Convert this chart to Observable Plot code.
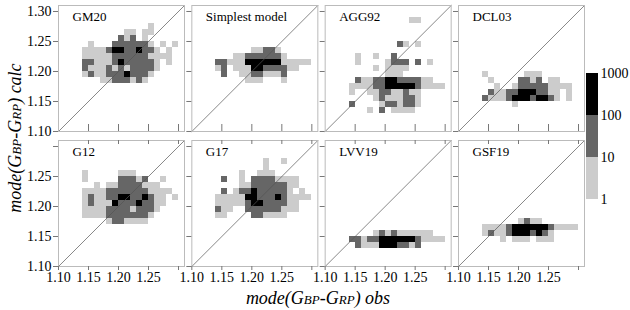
<!DOCTYPE html>
<html>
<head>
<meta charset="utf-8">
<script src="https://cdn.jsdelivr.net/npm/d3@7"></script>
<script src="https://cdn.jsdelivr.net/npm/@observablehq/plot@0.6"></script>
<style>
  html, body { margin: 0; padding: 0; background: #fff; }
  #wrap { position: relative; width: 630px; height: 310px; }
  #legend { position: absolute; left: 586px; top: 65px; }
</style>
</head>
<body>
<div id="wrap"></div>
<script>
// ---------- data ----------
const panelNames = ["GM20", "Simplest model", "AGG92", "DCL03", "G12", "G17", "LVV19", "GSF19"];
const panelCol = [0, 1, 2, 3, 0, 1, 2, 3];
const panelRow = [0, 0, 0, 0, 1, 1, 1, 1];

// bin edges of the 2D histogram (both axes)
const binEdges = [1.10, 1.11, 1.12, 1.13, 1.14, 1.15, 1.16, 1.17, 1.18, 1.19, 1.20,
                  1.21, 1.22, 1.23, 1.24, 1.25, 1.26, 1.27, 1.28, 1.29, 1.30];

// count level codes: '.' empty, '1' = 1-10, '2' = 10-100, '3' = 100-1000
const levelCount = [0, 3, 30, 300];

// each grid: rows listed from the top bin row (index given) downwards; columns = x bins
const gm20Top = 17;
const gm20Rows = [
  "...............1....",
  "...........11.11....",
  "..........212.1.....",
  ".....1...2222221.1.1",
  "....1111233223221.1.",
  "....111112222221111.",
  "....2211123222221.1.",
  "....2111212122221...",
  "....121122232221....",
  ".......11222121....."
];
const simpleTop = 13;
const simpleRows = [
  "..........11221.....",
  ".......112222221....",
  "....2211133333311111",
  "....12.11133222211..",
  ".....2..11221112....",
  ".........111...1...."
];
const agg92Top = 18;
const agg92Rows = [
  "..............11....",
  "....................",
  "....................",
  "....................",
  "............21.1....",
  "....................",
  ".....1..1..2........",
  ".....1....1222.2.1..",
  "........1.1111......",
  "..........111.......",
  ".....2112233222211..",
  "....1111223333321111",
  "....1..112211211....",
  "........12111221....",
  "....2....1221221....",
  ".......1.2.1111....."
];
const dcl03Top = 9;
const dcl03Rows = [
  "....1......111......",
  ".....1....2212.11...",
  "......1..1222221111.",
  ".....211223332211.1.",
  "....2111233323321.1.",
  ".........1.........."
];
const g12Top = 15;
const g12Rows = [
  "....1.....111.......",
  "....1.....22212..1..",
  "......1.112222111...",
  "....111122222221111.",
  "....12112233223211.1",
  "....12111322232211..",
  "....1111222212221...",
  "....111122222221....",
  "........1221111....."
];
const g17Top = 17;
const g17Rows = [
  "............1..1....",
  "............1.......",
  "........1..111......",
  ".....2..1.22221111..",
  "........1122222211..",
  ".....2.1223222221.1.",
  "....1111133222321111",
  "....11111233222211..",
  "....211..222222111..",
  "....11....221111...."
];
const lvv19Top = 5;
const lvv19Rows = [
  "........1212111111..",
  "....2212233333321111",
  ".....21113332212...."
];
const gsf19Top = 7;
const gsf19Rows = [
  "..........1211......",
  "....1111233333321111",
  "....121123332321....",
  ".......1.111.111...."
];

const gridTops = [gm20Top, simpleTop, agg92Top, dcl03Top, g12Top, g17Top, lvv19Top, gsf19Top];
const gridRows = [gm20Rows, simpleRows, agg92Rows, dcl03Rows, g12Rows, g17Rows, lvv19Rows, gsf19Rows];

// axes
const axisDomain = [1.10, 1.31];
const tickValues = [1.10, 1.15, 1.20, 1.25, 1.30];
const xTickLabels = ["1.10", "1.15", "1.20", "1.25", ""];
const innerTicks = [1.15, 1.20, 1.25, 1.30];
const yLabelsTop = ["1.10", "1.15", "1.20", "1.25", "1.30"];
const yLabelsBottom = ["1.10", "1.15", "1.20", "1.25"];

// colour bar
const legendTicks = [1, 10, 100, 1000];
const colorThresholds = [10, 100];
const grays = ["#cccccc", "#666666", "#000000"];

const xTitleParts = [["mode(G", 0], ["BP", 1], ["-G", 0], ["RP", 1], [") obs", 0]];
const yTitleParts = [["mode(G", 0], ["BP", 1], ["-G", 0], ["RP", 1], [") calc", 0]];

// ---------- build tables ----------
const cells = [];
gridRows.forEach((rows, p) => {
  rows.forEach((s, k) => {
    const j = gridTops[p] - k;
    for (let i = 0; i < s.length; i++) {
      const lv = "0123".indexOf(s[i]);
      if (lv > 0) cells.push({
        x1: binEdges[i], x2: binEdges[i + 1],
        y1: binEdges[j], y2: binEdges[j + 1],
        count: levelCount[lv], col: panelCol[p], row: panelRow[p]
      });
    }
  });
});
const panels = panelNames.map((name, p) => ({name, col: panelCol[p], row: panelRow[p]}));
const diag = [{v: axisDomain[0]}, {v: axisDomain[1]}];
const yLabelData = [
  ...yLabelsTop.map((label, i) => ({row: 0, v: tickValues[i], label})),
  ...yLabelsBottom.map((label, i) => ({row: 1, v: tickValues[i], label}))
];
const legendBins = legendTicks.slice(0, -1).map((lo, i) => ({lo, hi: legendTicks[i + 1]}));

const font = "'Liberation Serif', 'Times New Roman', serif";
const colorScale = {type: "threshold", domain: colorThresholds, range: grays};

const chart = Plot.plot({
  width: 630,
  height: 310,
  marginLeft: 58,
  marginRight: 46,
  marginTop: 5,
  marginBottom: 44,
  x: {domain: axisDomain},
  y: {domain: axisDomain, axis: null},
  fx: {domain: [0, 1, 2, 3], paddingInner: 0.055, paddingOuter: 0, round: false, axis: null},
  fy: {domain: [0, 1], paddingInner: 0.0667, paddingOuter: 0, round: false, axis: null},
  color: colorScale,
  style: {fontFamily: font, fontSize: "14px", background: "#fff", color: "#000"},
  marks: [
    Plot.rect(cells, {x1: "x1", x2: "x2", y1: "y1", y2: "y2", fx: "col", fy: "row", fill: "count", shapeRendering: "crispEdges"}),
    Plot.line(diag, {x: "v", y: "v", stroke: "#555", strokeWidth: 0.7}),
    Plot.frame({stroke: "#bbbbbb", strokeWidth: 1}),
    Plot.tickY(tickValues, {y: d => d, insetLeft: -5, insetRight: 126, stroke: "#777"}),
    Plot.tickX(innerTicks, {x: d => d, fy: () => 0, insetTop: 119, stroke: "#777"}),
    Plot.tickX(innerTicks, {x: d => d, fy: () => 1, insetBottom: 122, stroke: "#777"}),
    Plot.axisX({anchor: "bottom", ticks: tickValues, tickSize: 4, tickPadding: 2, stroke: "#777",
      tickFormat: d => xTickLabels[tickValues.findIndex(t => Math.abs(t - d) < 1e-9)], label: null, fontSize: 14}),
    Plot.text(yLabelData, {fx: () => 0, fy: "row", y: "v", text: "label", frameAnchor: "left", textAnchor: "end", dx: -7, fontSize: 14}),
    Plot.text(panels, {fx: "col", fy: "row", text: "name", frameAnchor: "top-left", dx: 14, dy: 11, lineAnchor: "middle", fontSize: 13})
  ]
});

// axis titles
const svg = d3.select(chart);
function addTitle(parts, transform) {
  const t = svg.append("text")
    .attr("transform", transform)
    .attr("text-anchor", "middle")
    .attr("font-family", font)
    .attr("font-style", "italic")
    .attr("font-size", 18)
    .attr("fill", "#000");
  parts.forEach(([s, small]) => t.append("tspan").attr("font-size", small ? 13 : 18).text(s));
}
addTitle(xTitleParts, "translate(318,304)");
addTitle(yTitleParts, "translate(21,138) rotate(-90)");

document.getElementById("wrap").appendChild(chart);

// colour bar
const legend = Plot.plot({
  width: 50,
  height: 142,
  marginLeft: 0,
  marginRight: 38,
  marginTop: 8,
  marginBottom: 8,
  x: {axis: null, domain: [0, 1]},
  y: {type: "log", domain: [1, 1000], axis: "right", ticks: legendTicks, tickFormat: d => String(d), tickSize: 0, tickPadding: 2, label: null},
  color: colorScale,
  style: {fontFamily: font, fontSize: "14px", background: "transparent", color: "#000"},
  marks: [
    Plot.rect(legendBins, {x1: 0, x2: 1, y1: "lo", y2: "hi", fill: "lo"})
  ]
});
legend.id = "legend";
document.getElementById("wrap").appendChild(legend);
</script>
</body>
</html>
